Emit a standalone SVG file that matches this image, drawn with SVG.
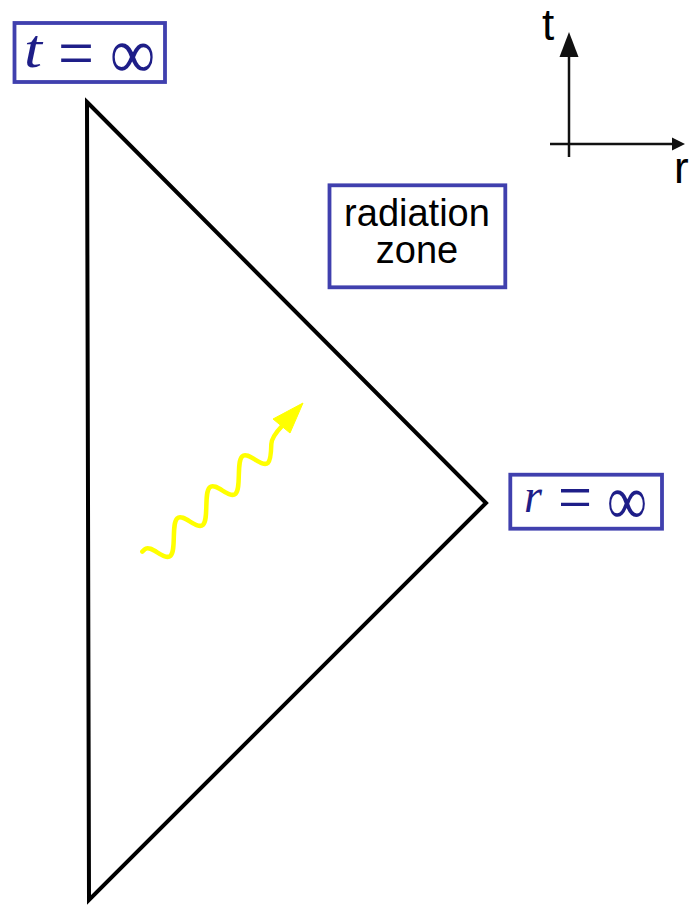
<svg xmlns="http://www.w3.org/2000/svg" width="689" height="908" viewBox="0 0 689 908">
<defs>
<style>
.box{fill:#ffffff;stroke:#3f3fae;stroke-width:3.8;filter:url(#soft)}
.math{font-family:"Liberation Serif","DejaVu Serif",serif;fill:#1e1e88}
.mi{font-style:italic}
.lbl{font-family:"Liberation Sans",Arial,sans-serif;fill:#000000;text-anchor:middle}
.axis{stroke:#111111;stroke-width:2.5;fill:none}
</style>
<filter id="soft" x="-10%" y="-10%" width="120%" height="120%"><feGaussianBlur stdDeviation="0.7"/></filter>
</defs>
<rect width="689" height="908" fill="#ffffff"/>
<g id="connectors">
<polygon id="diagram-triangle" points="87,102 486,503 89,900" fill="none" stroke="#000000" stroke-width="4" stroke-linejoin="miter"/>
<g id="axes">
<line class="axis" x1="569" y1="157" x2="569" y2="55"/>
<polygon points="569,32 559.5,57 578.5,57" fill="#111111"/>
<line class="axis" x1="550" y1="144" x2="674" y2="144"/>
<polygon points="685,144 672,137.5 672,150.5" fill="#111111"/>
</g>
<g id="photon">
<path d="M142.3,551.6 L144.65,549.3 C150.56,543.67 164.6,561.43 170.5,555.8 C176.41,550.17 171.25,523.93 177.15,518.3 C183.06,512.67 197.1,530.43 203,524.8 C208.91,519.17 203.75,492.93 209.65,487.3 C215.56,481.67 229.6,499.43 235.5,493.8 C241.41,488.17 236.25,461.93 242.15,456.3 C248.06,450.67 262.1,468.43 268,462.8 C270.66,460.27 271.13,452.22 271.33,444.05 Q271.6,437 282,426" fill="none" stroke="#ffff00" stroke-width="4.5" stroke-linecap="round" stroke-linejoin="round"/>
<polygon points="303,403 273,419 290,433" fill="#ffff00" stroke="#ffff00" stroke-width="1" stroke-linejoin="round"/>
</g>
</g>
<g id="node-t-inf">
<rect class="box" x="14.5" y="23" width="150.5" height="59"/>
<text class="math mi" x="24" y="67" font-size="54" textLength="18" lengthAdjust="spacingAndGlyphs">t</text>
<text class="math" x="58" y="77" font-size="70" textLength="36" lengthAdjust="spacingAndGlyphs">=</text>
<text class="math" x="110" y="78" font-size="72" textLength="45" lengthAdjust="spacingAndGlyphs">∞</text>
</g>
<g id="node-r-inf">
<rect class="box" x="510.3" y="474.7" width="151.7" height="54"/>
<text class="math mi" x="524" y="512" font-size="48" textLength="18" lengthAdjust="spacingAndGlyphs">r</text>
<text class="math" x="558" y="520" font-size="68" textLength="34" lengthAdjust="spacingAndGlyphs">=</text>
<text class="math" x="607" y="524" font-size="70" textLength="40" lengthAdjust="spacingAndGlyphs">∞</text>
</g>
<g id="node-radiation">
<rect class="box" x="329.5" y="185.3" width="175.8" height="102"/>
<text class="lbl" x="417" y="226" font-size="38">radiation</text>
<text class="lbl" x="417" y="263" font-size="38">zone</text>
</g>
<g id="axis-labels">
<text class="lbl" x="548" y="40" font-size="44">t</text>
<text x="674" y="183" font-size="44" font-family="Liberation Sans, Arial, sans-serif">r</text>
</g>
</svg>
